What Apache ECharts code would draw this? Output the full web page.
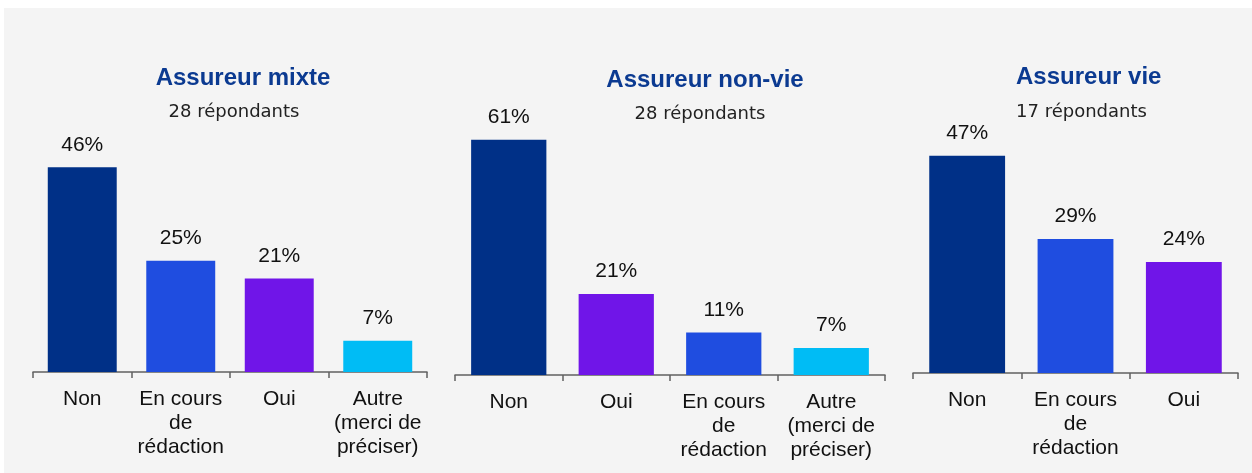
<!DOCTYPE html>
<html><head><meta charset="utf-8">
<script src="https://cdn.jsdelivr.net/npm/echarts@6/dist/echarts.min.js"></script>
<style>html,body{margin:0;padding:0;background:#fff;}#c{position:absolute;left:4px;top:8px;width:1248px;height:465px;background:#f4f4f4;}</style>
</head><body><div id="c"></div>
<script>
const titles = ["Assureur mixte", "Assureur non-vie", "Assureur vie"];
const subtitles = ["28 répondants", "28 répondants", "17 répondants"];
const catsMixte = ["Non", "En cours\nde\nrédaction", "Oui", "Autre\n(merci de\npréciser)"];
const valsMixte = [46, 25, 21, 7];
const catsNonVie = ["Non", "Oui", "En cours\nde\nrédaction", "Autre\n(merci de\npréciser)"];
const valsNonVie = [61, 21, 11, 7];
const catsVie = ["Non", "En cours\nde\nrédaction", "Oui"];
const valsVie = [47, 29, 24];

const colorMap = {"Non":"#003087","Oui":"#7015E8","Autre":"#00BCF5","En cours":"#1F4DE0"};
function colorFor(c){ for (const k in colorMap){ if (c.startsWith(k)) return colorMap[k]; } return "#333"; }

const ox = 4, oy = 8;
const panels = [
  {cats: catsMixte, vals: valsMixte, l: 33, r: 427, t: 149.5, b: 372, max: 50},
  {cats: catsNonVie, vals: valsNonVie, l: 455, r: 885, t: 105, b: 375, max: 70},
  {cats: catsVie, vals: valsVie, l: 913, r: 1238, t: 142, b: 373, max: 50}
];
const titlePos = [{x:243,y:78,a:'center'},{x:705,y:80,a:'center'},{x:1016,y:77,a:'left'}];
const subPos = [{x:234,y:112,a:'center'},{x:700,y:114,a:'center'},{x:1016,y:112,a:'left'}];

const chart = echarts.init(document.getElementById('c'), null, {renderer:'canvas'});
const option = {
  backgroundColor: '#f4f4f4',
  animation: false,
  title: [],
  grid: [], xAxis: [], yAxis: [], series: []
};
panels.forEach((p, i) => {
  option.title.push({text: titles[i], left: titlePos[i].x - ox, top: titlePos[i].y - oy, textAlign: titlePos[i].a,
    textVerticalAlign: 'middle', padding: 0,
    textStyle: {fontFamily: 'Liberation Sans, Arial', fontWeight: 'bold', fontSize: 24, color: '#0B3A91'}});
  option.title.push({text: subtitles[i], left: subPos[i].x - ox, top: subPos[i].y - oy, textAlign: subPos[i].a,
    textVerticalAlign: 'middle', padding: 0,
    textStyle: {fontFamily: 'DejaVu Sans, sans-serif', fontWeight: 'normal', fontSize: 18, color: '#222'}});
  option.grid.push({left: p.l - ox, width: p.r - p.l, top: p.t - oy, height: p.b - p.t, containLabel: false});
  option.xAxis.push({type: 'category', gridIndex: i, data: p.cats,
    axisLine: {lineStyle: {color: '#606060', width: 1.5}},
    axisTick: {show: true, length: 6, inside: false, lineStyle: {color: '#606060', width: 1.5}},
    axisLabel: {interval: 0, color: '#111', fontFamily: 'Liberation Sans, Arial', fontSize: 21, lineHeight: 24, margin: 15}});
  option.yAxis.push({type: 'value', gridIndex: i, min: 0, max: p.max, show: false, splitLine: {show: false}});
  option.series.push({type: 'bar', xAxisIndex: i, yAxisIndex: i, barWidth: '70%',
    data: p.vals.map((v, j) => ({value: v, itemStyle: {color: colorFor(p.cats[j])}})),
    label: {show: true, position: 'top', distance: 12, formatter: '{c}%', color: '#111',
      fontFamily: 'Liberation Sans, Arial', fontSize: 21}});
});
chart.setOption(option);
</script></body></html>
